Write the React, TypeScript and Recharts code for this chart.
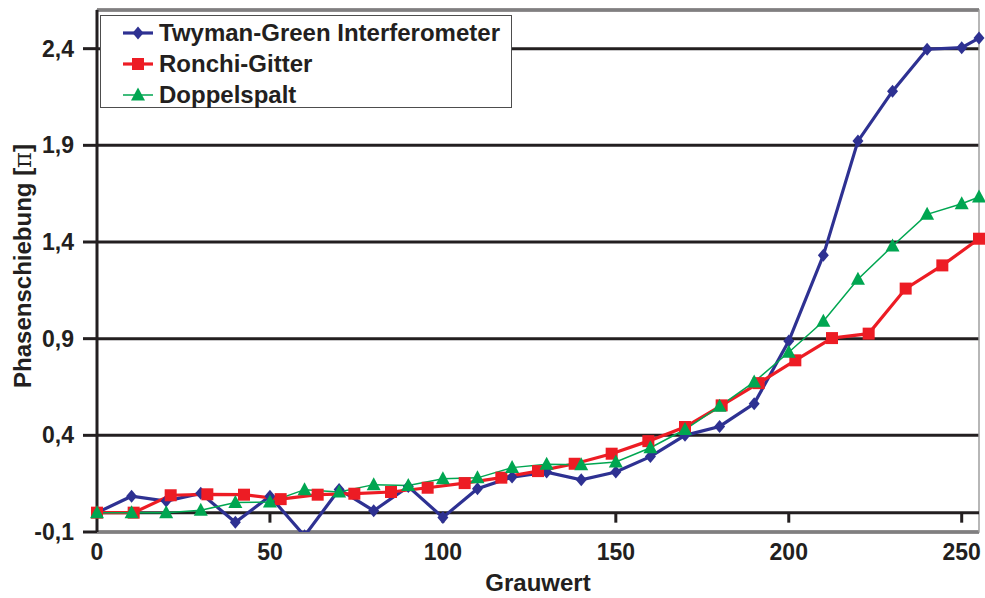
import React from 'react';
import {
  LineChart,
  Line,
  XAxis,
  YAxis,
  CartesianGrid,
  ReferenceLine,
  ReferenceArea,
  ReferenceDot,
} from 'recharts';

// Grauwert samples and measured phase shift (in units of pi)
const grauTwyman = [0, 10, 20, 30, 40, 50, 60, 70, 80, 90, 100, 110, 120, 130, 140, 150, 160, 170, 180, 190, 200, 210, 220, 230, 240, 250, 255];
const phaseTwyman = [0, 0.085, 0.06, 0.1, -0.05, 0.085, -0.12, 0.12, 0.01, 0.135, -0.025, 0.124, 0.184, 0.21, 0.17, 0.21, 0.29, 0.4, 0.446, 0.564, 0.888, 1.331, 1.922, 2.18, 2.397, 2.405, 2.455];

const grauRonchi = [0, 10.6, 21.3, 31.9, 42.5, 53.1, 63.8, 74.4, 85, 95.6, 106.3, 116.9, 127.5, 138.1, 148.8, 159.4, 170, 180.6, 191.3, 201.9, 212.5, 223.1, 233.8, 244.4, 255];
const phaseRonchi = [0, 0, 0.09, 0.095, 0.093, 0.07, 0.093, 0.098, 0.107, 0.129, 0.153, 0.181, 0.215, 0.253, 0.305, 0.37, 0.443, 0.555, 0.67, 0.788, 0.903, 0.926, 1.159, 1.279, 1.417];

const grauDoppel = [0, 10, 20, 30, 40, 50, 60, 70, 80, 90, 100, 110, 120, 130, 140, 150, 160, 170, 180, 190, 200, 210, 220, 230, 240, 250, 255];
const phaseDoppel = [0, 0, 0, 0.012, 0.052, 0.055, 0.119, 0.107, 0.145, 0.141, 0.176, 0.18, 0.233, 0.25, 0.248, 0.262, 0.336, 0.43, 0.55, 0.676, 0.83, 0.99, 1.207, 1.379, 1.543, 1.598, 1.633];

const xTicks = [0, 50, 100, 150, 200, 250];
const yTicks = [-0.1, 0.4, 0.9, 1.4, 1.9, 2.4];

const INK = '#231f20';
const FONT = '"Liberation Sans", Arial, sans-serif';

const toPoints = (xs: number[], ys: number[]) => xs.map((x, i) => ({ x, y: ys[i] }));

const Diamond = ({ cx, cy, fill }: any) => (
  <polygon points={`${cx},${cy - 6.5} ${cx + 5.5},${cy} ${cx},${cy + 6.5} ${cx - 5.5},${cy}`} fill={fill} />
);
const Square = ({ cx, cy, fill }: any) => <rect x={cx - 6} y={cy - 6} width={12} height={12} fill={fill} />;
const Triangle = ({ cx, cy, fill }: any) => (
  <polygon points={`${cx},${cy - 7.5} ${cx + 7},${cy + 5.5} ${cx - 7},${cy + 5.5}`} fill={fill} />
);

const series = [
  { name: 'Twyman-Green Interferometer', color: '#2e3192', width: 3.2, data: toPoints(grauTwyman, phaseTwyman), Marker: Diamond },
  { name: 'Ronchi-Gitter', color: '#ed1c24', width: 3.2, data: toPoints(grauRonchi, phaseRonchi), Marker: Square },
  { name: 'Doppelspalt', color: '#00a651', width: 1.5, data: toPoints(grauDoppel, phaseDoppel), Marker: Triangle },
];

const fmt = (v: number) => v.toFixed(1).replace('.', ',');

const LegendBox = () => (
  <div
    style={{
      position: 'absolute',
      left: 100,
      top: 15,
      width: 410,
      height: 91,
      border: '1px solid #4d4d4d',
      background: '#fff',
      fontFamily: FONT,
      fontWeight: 'bold',
      fontSize: 24,
      color: INK,
    }}
  >
    {series.map((s, i) => (
      <div key={s.name} style={{ position: 'absolute', left: 21, top: 3 + i * 31, height: 28, display: 'flex', alignItems: 'center', whiteSpace: 'nowrap' }}>
        <svg width={32} height={20} style={{ marginRight: 5 }}>
          <line x1={1} y1={10} x2={31} y2={10} stroke={s.color} strokeWidth={s.width} />
          <s.Marker cx={16} cy={10} fill={s.color} />
        </svg>
        <span>{s.name}</span>
      </div>
    ))}
  </div>
);

export default function App() {
  return (
    <div style={{ position: 'absolute', left: 0, top: 0, width: 985, height: 598 }}>
      <LineChart width={985} height={598} margin={{ top: 10, right: 6, bottom: 0, left: 0 }}>
        <ReferenceArea x1={0} x2={255} y1={-0.1} y2={2.6} fill="none" stroke="#a0a0a0" strokeWidth={1.5} />
        <CartesianGrid vertical={false} stroke={INK} strokeWidth={3} />
        <XAxis
          type="number"
          dataKey="x"
          domain={[0, 255]}
          ticks={xTicks}
          axisLine={false}
          tickLine={false}
          tickSize={0}
          tickMargin={12}
          height={66}
          tick={{ fontSize: 23, fontWeight: 'bold', fill: INK, fontFamily: FONT }}
          label={{
            content: ({ viewBox }: any) => (
              <text
                x={viewBox.x + viewBox.width / 2}
                y={viewBox.y + 59}
                textAnchor="middle"
                fontSize={24}
                fontWeight="bold"
                fill={INK}
                fontFamily={FONT}
              >
                Grauwert
              </text>
            ),
          }}
        />
        <YAxis
          type="number"
          domain={[-0.1, 2.6]}
          ticks={yTicks}
          allowDataOverflow
          width={97}
          axisLine={{ stroke: INK, strokeWidth: 3 }}
          tickLine={{ stroke: INK, strokeWidth: 3 }}
          tickSize={14}
          tickMargin={9}
          tickFormatter={fmt}
          tick={{ fontSize: 23, fontWeight: 'bold', fill: INK, fontFamily: FONT }}
          label={{
            content: ({ viewBox }: any) => {
              const x = viewBox.x + 31;
              const y = viewBox.y + viewBox.height / 2 - 5;
              return (
                <text
                  x={x}
                  y={y}
                  transform={`rotate(-90, ${x}, ${y})`}
                  textAnchor="middle"
                  fontSize={24}
                  fontWeight="bold"
                  fill={INK}
                  fontFamily={FONT}
                >
                  Phasenschiebung [<tspan fontFamily="DejaVu Serif" fontWeight="normal">π</tspan>]
                </text>
              );
            },
          }}
        />
        <ReferenceLine y={0} stroke={INK} strokeWidth={3} />
        {xTicks.slice(1).map((t) => (
          <ReferenceDot
            key={t}
            x={t}
            y={0}
            shape={(p: any) => <line x1={p.cx} y1={p.cy} x2={p.cx} y2={p.cy + 10} stroke={INK} strokeWidth={3} />}
          />
        ))}
        {series.map((s) => (
          <Line
            key={s.name}
            data={s.data}
            dataKey="y"
            name={s.name}
            stroke={s.color}
            strokeWidth={s.width}
            isAnimationActive={false}
            dot={(p: any) => <s.Marker key={p.index} cx={p.cx} cy={p.cy} fill={s.color} />}
            activeDot={false}
          />
        ))}
      </LineChart>
      <LegendBox />
    </div>
  );
}
